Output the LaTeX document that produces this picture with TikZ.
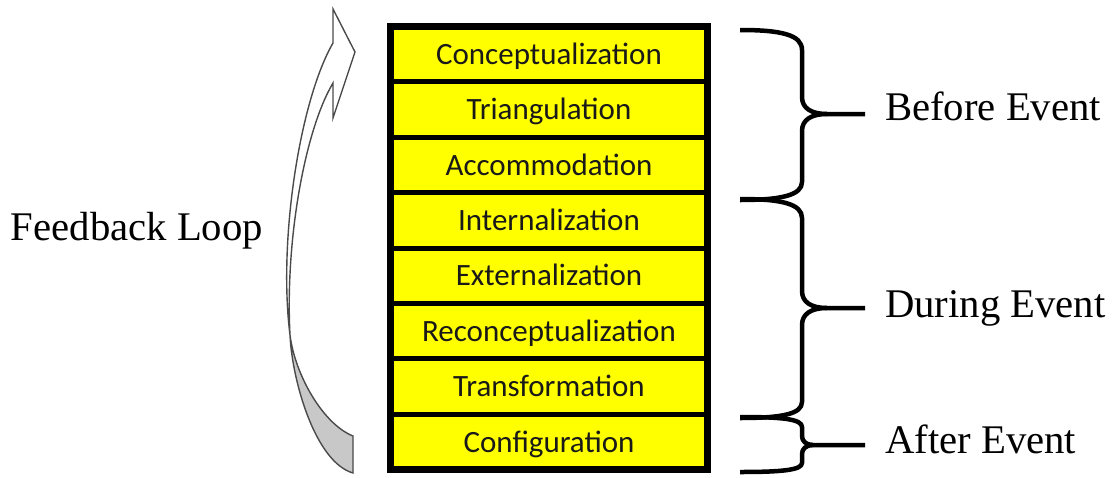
\documentclass[tikz,border=0pt]{standalone}
\usepackage{fontspec}
\setmainfont{Liberation Serif}
\newfontfamily\boxfont{Carlito}
\definecolor{rowyellow}{HTML}{FFFF00}
\definecolor{backgray}{HTML}{C8C8C8}
\definecolor{arrowedge}{HTML}{4A4A4A}
\begin{document}
\begin{tikzpicture}[x=1pt,y=-1pt,
  row/.style={draw=black, line width=5pt, fill=rowyellow, minimum width=317pt,
    minimum height=55.4pt, inner sep=0pt, outer sep=0pt, text height=20pt, text depth=0pt,
    font=\boxfont\fontsize{31}{31}\selectfont, text=black!90},
  lab/.style={font=\fontsize{40.7}{40.7}\selectfont, inner sep=0pt},
  bracepath/.style={draw=black, line width=4.5pt, line cap=butt, line join=round},
  arrowline/.style={draw=arrowedge, line width=1.4pt, line join=miter}]
\useasboundingbox (0,0) rectangle (1114,477);

% stack of rows
\node[row] (r1) at (549,54.2)  {Conceptualization};
\node[row] (r2) at (549,109.6) {Triangulation};
\node[row] (r3) at (549,165.0) {Accommodation};
\node[row] (r4) at (549,220.4) {Internalization};
\node[row] (r5) at (549,275.8) {Externalization};
\node[row] (r6) at (549,331.2) {Reconceptualization};
\node[row] (r7) at (549,386.6) {Transformation};
\node[row] (r8) at (549,442.0) {Configuration};
\draw[line width=7pt] (r1.north west) rectangle (r8.south east);

% feedback arrow: front face
\coordinate (ax) at (290,335);
\draw[arrowline, fill=white]
  (333,43) .. controls (300,100) and (278,240) .. (ax)
  .. controls (285,240) and (305,130) .. (333,83)
  -- (333,118) -- (355,52) -- (333,9) -- cycle;
% back face
\draw[arrowline, fill=backgray]
  (ax) .. controls (295,375) and (323,424) .. (353,436)
  -- (353,473) .. controls (315,462) and (292,380) .. (ax) -- cycle;

\node[lab, anchor=base] (fb) at (137,240) {Feedback Loop};

% braces
\coordinate (b1t) at (740,30);  \coordinate (b1b) at (740,200); \coordinate (b1m) at (865,114);
\coordinate (b2t) at (740,199); \coordinate (b2b) at (740,418); \coordinate (b2m) at (865,308);
\coordinate (b3t) at (740,417); \coordinate (b3b) at (740,472); \coordinate (b3m) at (865,445);

\draw[bracepath] (b1t) .. controls (782,30) and (802,35) .. (802,50) -- (802,97)
  .. controls (802,108) and (811,114) .. (827,114) -- (b1m);
\draw[bracepath] (827,114) .. controls (811,114) and (802,120) .. (802,131) -- (802,182)
  .. controls (802,195) and (782,200) .. (b1b);

\draw[bracepath] (b2t) .. controls (782,199) and (802,204) .. (802,218) -- (802,291)
  .. controls (802,302) and (811,308) .. (827,308) -- (b2m);
\draw[bracepath] (827,308) .. controls (811,308) and (802,314) .. (802,325) -- (802,402)
  .. controls (802,414) and (782,418) .. (b2b);

\draw[bracepath] (b3t) .. controls (782,417) and (802,419) .. (802,427) -- (802,436)
  .. controls (802,441) and (806,445) .. (813,445) -- (b3m);
\draw[bracepath] (813,445) .. controls (806,445) and (802,449) .. (802,454) -- (802,463)
  .. controls (802,470) and (782,472) .. (b3b);

\node[lab, anchor=base west] (be) at (885,120) {Before Event};
\node[lab, anchor=base west] (de) at (885,317) {During Event};
\node[lab, anchor=base west] (ae) at (885,453) {After Event};
\end{tikzpicture}
\end{document}
